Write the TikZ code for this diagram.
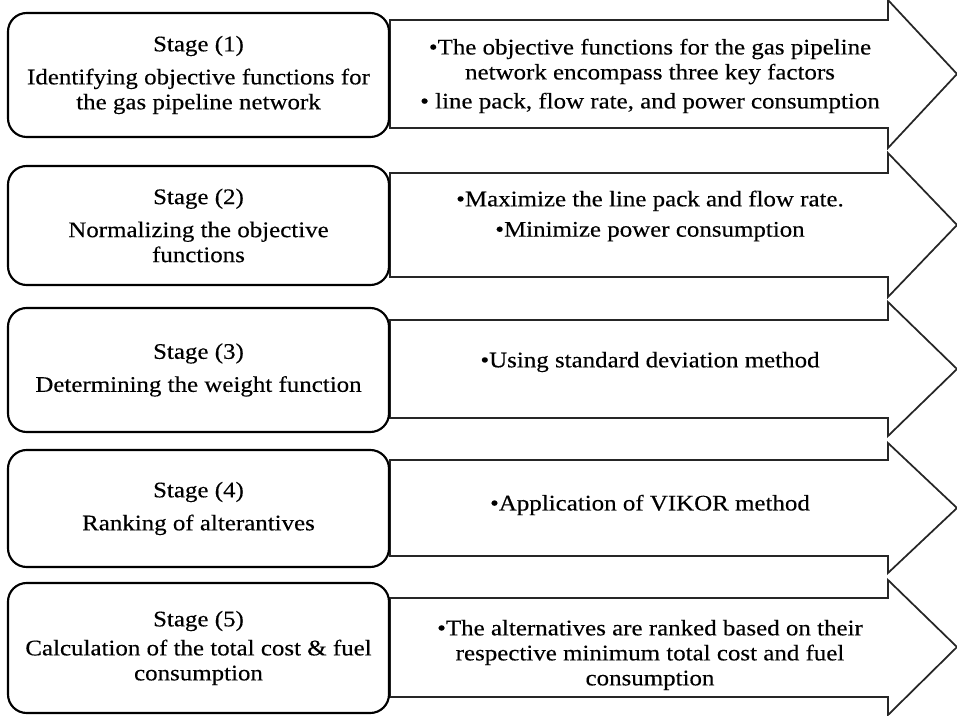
\documentclass[tikz,border=0pt]{standalone}
\usepackage{fontspec}
\setmainfont{Liberation Serif}[FakeStretch=1.12,FakeBold=0.3]
\definecolor{arrowline}{HTML}{262626}
\begin{document}
\begin{tikzpicture}[x=0.75pt,y=-0.75pt,
  txt/.style={font=\fontsize{16.7}{18.75}\selectfont, align=center, inner sep=0pt},
  stagebox/.style={txt, draw=black, line width=1.6pt, rounded corners=14pt,
    fill=white, minimum width=285.75pt},
  infoarrow/.style={draw=arrowline, line width=1.3pt, fill=white, line join=miter}]
\useasboundingbox (0,0) rectangle (957,716);

% right-pointing block arrows: body top, body bottom, head top, head bottom, tip height
\foreach \bt/\bb/\ht/\hb/\tip in {20/128/0/148/74, 173/277/153/297/225,
    320/418/302/436/369, 460/556/443/573/508, 598/697/580/715/647}{
  \draw[infoarrow] (390,\bt) -- (888,\bt) -- (888,\ht) -- (957,\tip)
    -- (888,\hb) -- (888,\bb) -- (390,\bb) -- cycle;
}

% stage boxes
\node[stagebox, minimum height=93pt] (stage1) at (198.5,75)
  {Stage (1)\\[6pt]Identifying objective functions for\\the gas pipeline network};
\node[stagebox, minimum height=89.25pt] (stage2) at (198.5,225.5)
  {Stage (2)\\[6pt]Normalizing the objective\\functions};
\node[stagebox, minimum height=93pt] (stage3) at (198.5,370)
  {Stage (3)\\[6pt]Determining the weight function};
\node[stagebox, minimum height=87.75pt] (stage4) at (198.5,508.5)
  {Stage (4)\\[6pt]Ranking of alterantives};
\node[stagebox, minimum height=97.5pt] (stage5) at (198.5,648)
  {\raisebox{-3pt}{Stage (5)}\\[6pt]Calculation of the total cost \& fuel\\consumption};

% bullet text inside the arrows
\node[txt] (info1) at (650,76)
  {•The objective functions for the gas pipeline\\network encompass three key factors\\[3pt]• line pack, flow rate, and power consumption};
\node[txt] (info2) at (650,216)
  {•Maximize the line pack and flow rate.\\[4pt]•Minimize power consumption};
\node[txt] (info3) at (650,362)
  {•Using standard deviation method};
\node[txt] (info4) at (650,505)
  {•Application of VIKOR method};
\node[txt] (info5) at (650,655)
  {•The alternatives are ranked based on their\\respective minimum total cost and fuel\\consumption};
\end{tikzpicture}
\end{document}
